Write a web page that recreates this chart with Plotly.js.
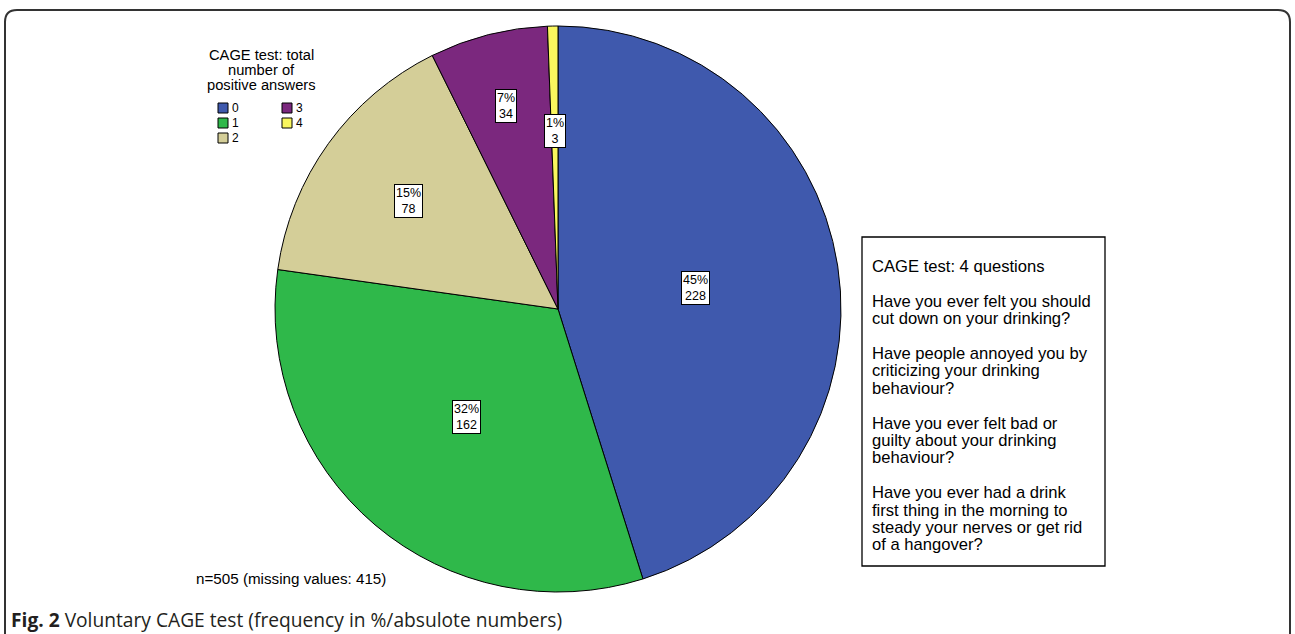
<!DOCTYPE html>
<html>
<head>
<meta charset="utf-8">
<script src="https://cdn.plot.ly/plotly-3.0.1.min.js"></script>
<style>html,body{margin:0;padding:0;background:#fff;}#chart{width:1295px;height:634px;}</style>
</head>
<body>
<div id="chart"></div>
<script>
// ---- data ----
const categories = ["0", "1", "2", "3", "4"];
const counts = [228, 162, 78, 34, 3];
const percentLabels = ["45%", "32%", "15%", "7%", "1%"];
const colors = ["#3f59ad", "#2fb84a", "#d4ce98", "#7b287e", "#f9f65e"];
const legendTitle = ["CAGE test: total", "number of", "positive answers"];
const boxLines = [
  "CAGE test: 4 questions", "",
  "Have you ever felt you should", "cut down on your drinking?", "",
  "Have people annoyed you by", "criticizing your drinking", "behaviour?", "",
  "Have you ever felt bad or", "guilty about your drinking", "behaviour?", "",
  "Have you ever had a drink", "first thing in the morning to", "steady your nerves or get rid", "of a hangover?"
];
const nNote = "n=505 (missing values: 415)";
const caption = "<b>Fig. 2</b> Voluntary CAGE test (frequency in %/absulote numbers)";

// ---- geometry / style ----
const W = 1295, H = 634;
const cx = 558, cy = 309, R = 283;
const labelRadius = [0.49, 0.5, 0.65, 0.74, 0.63];
const font = "Liberation Sans, Arial, sans-serif";

const total = counts.reduce((a, b) => a + b, 0);
const annotations = [];
const shapes = [];

// slice labels
let cum = 0;
counts.forEach((v, i) => {
  const mid = (cum + v / 2) / total;
  cum += v;
  const ang = mid * 2 * Math.PI; // clockwise from 12 o'clock
  const r = R * labelRadius[i];
  annotations.push({
    x: cx + r * Math.sin(ang), y: cy - r * Math.cos(ang),
    xref: "x", yref: "y", showarrow: false,
    text: percentLabels[i] + "<br>" + v,
    font: {family: font, size: 12.5, color: "#000"},
    bgcolor: "#fff", bordercolor: "#000", borderwidth: 1, borderpad: 1
  });
});

// legend title
legendTitle.forEach((t, i) => {
  annotations.push({x: 261, y: 55 + i * 15, xref: "x", yref: "y", showarrow: false,
    text: t, font: {family: font, size: 14.7, color: "#000"}, xanchor: "center", yanchor: "middle"});
});
// legend items (column-major, 3 rows)
categories.forEach((c, i) => {
  const col = Math.floor(i / 3), row = i % 3;
  const x0 = 218 + col * 64, yc = 108 + row * 15;
  shapes.push({type: "rect", xref: "x", yref: "y", x0: x0, x1: x0 + 10, y0: yc - 5, y1: yc + 5,
    fillcolor: colors[i], line: {color: "#000", width: 1}});
  annotations.push({x: x0 + 12, y: yc, xref: "x", yref: "y", showarrow: false, text: c,
    font: {family: font, size: 12, color: "#000"}, xanchor: "left", yanchor: "middle"});
});

// question box
shapes.push({type: "rect", xref: "x", yref: "y", x0: 862, x1: 1105, y0: 237, y1: 566,
  line: {color: "#000", width: 1.3}, fillcolor: "rgba(0,0,0,0)"});
boxLines.forEach((t, i) => {
  if (!t) return;
  annotations.push({x: 870, y: 266.5 + i * 17.4, xref: "x", yref: "y", showarrow: false, text: t,
    font: {family: font, size: 16.6, color: "#000"}, xanchor: "left", yanchor: "middle"});
});

// n note
annotations.push({x: 291, y: 578, xref: "x", yref: "y", showarrow: false, text: nNote,
  font: {family: font, size: 15.2, color: "#000"}, xanchor: "center", yanchor: "middle"});
// caption
annotations.push({x: 9, y: 619, xref: "x", yref: "y", showarrow: false, text: caption,
  font: {family: "Open Sans, Noto Sans, sans-serif", size: 19.2, color: "#231f20"}, xanchor: "left", yanchor: "middle"});

// outer frame (rounded, open at bottom)
shapes.push({type: "path", xref: "x", yref: "y", layer: "below",
  path: "M 5 650 L 5 22 Q 5 10 17 10 L 1278 10 Q 1290 10 1290 22 L 1290 650",
  line: {color: "#333", width: 2}});

const trace = {
  type: "pie",
  labels: categories,
  values: counts,
  sort: false,
  direction: "clockwise",
  rotation: 0,
  textinfo: "none",
  hoverinfo: "skip",
  showlegend: false,
  marker: {colors: colors, line: {color: "#000", width: 1}},
  domain: {x: [(cx - R) / W, (cx + R) / W], y: [1 - (cy + R) / H, 1 - (cy - R) / H]}
};

const layout = {
  width: W, height: H,
  margin: {l: 0, r: 0, t: 0, b: 0},
  paper_bgcolor: "#fff", plot_bgcolor: "rgba(0,0,0,0)",
  xaxis: {range: [0, W], visible: false, fixedrange: true},
  yaxis: {range: [H, 0], visible: false, fixedrange: true},
  showlegend: false,
  annotations: annotations,
  shapes: shapes
};

Plotly.newPlot("chart", [trace], layout, {displayModeBar: false, staticPlot: true});
</script>
</body>
</html>
